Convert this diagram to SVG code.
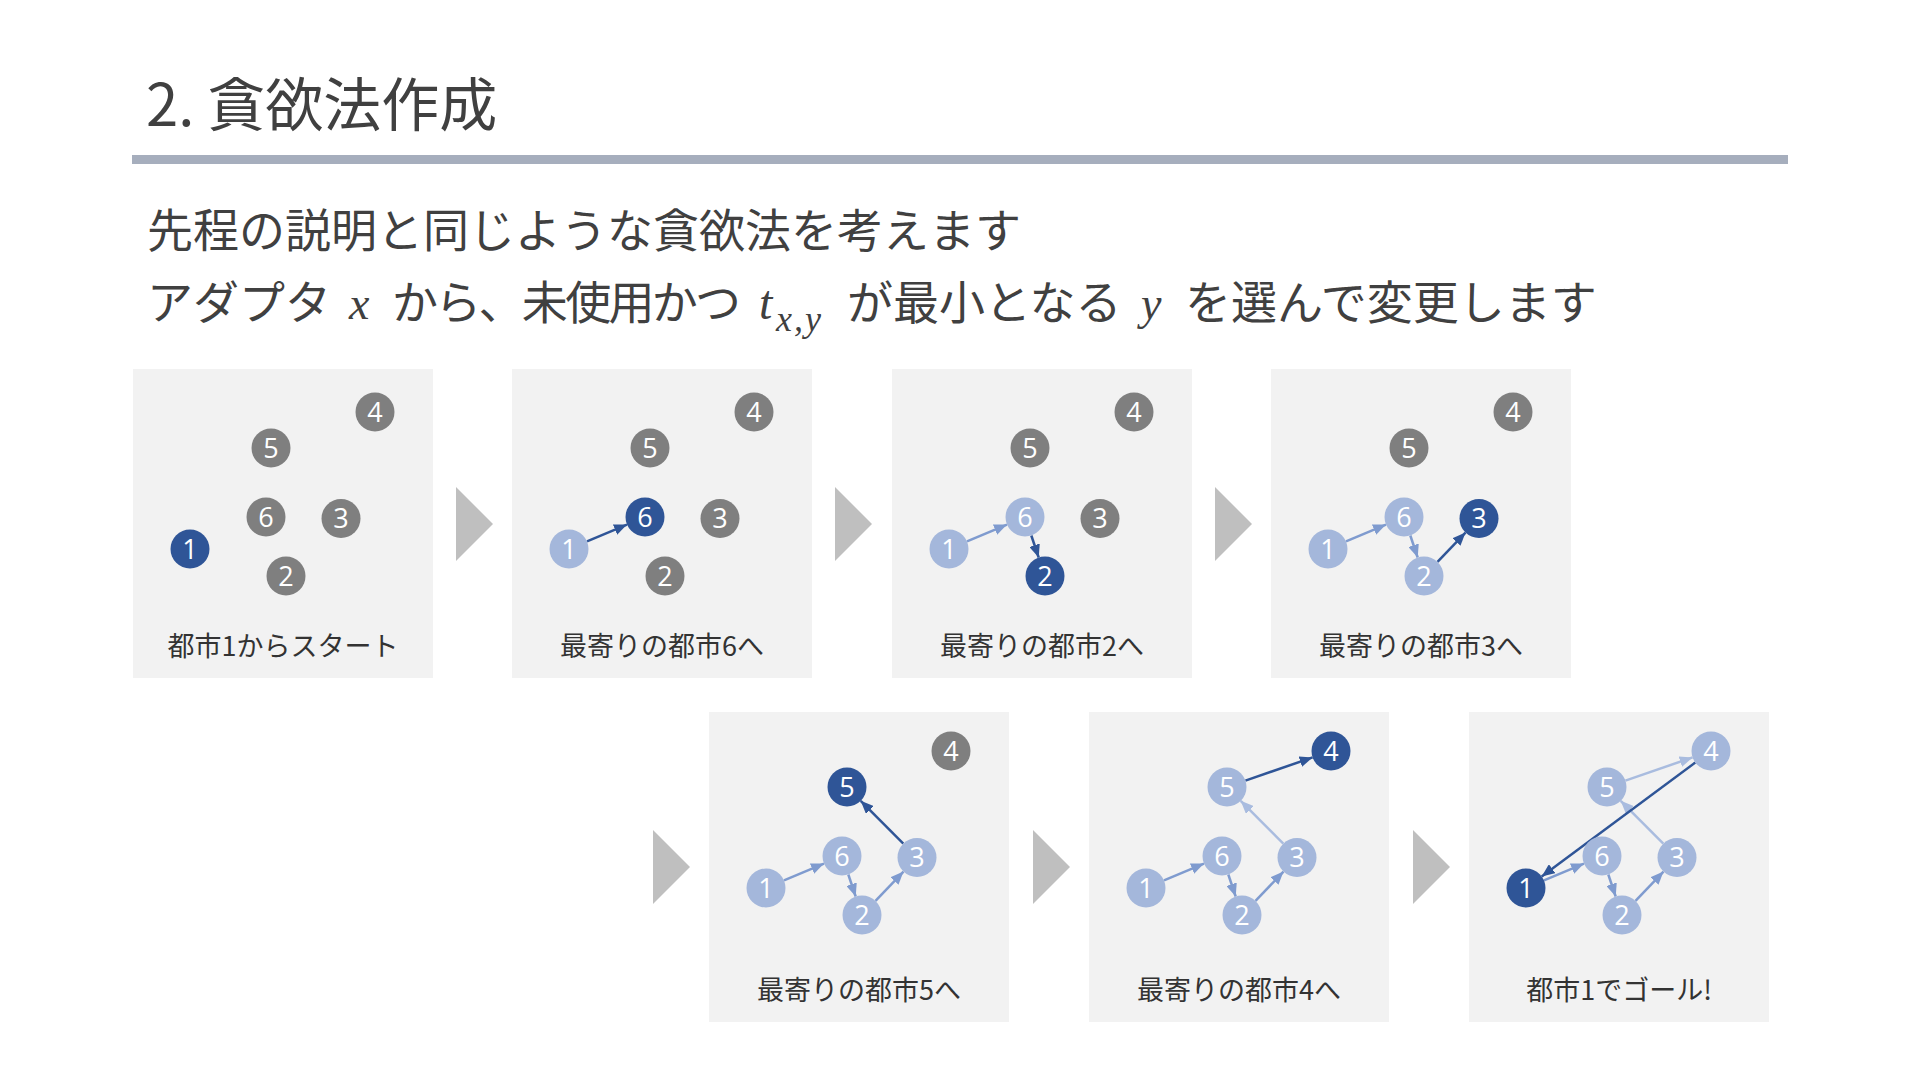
<svg xmlns="http://www.w3.org/2000/svg" width="1920" height="1080" viewBox="0 0 1920 1080">
<style>
.jp{font-family:"Noto Sans CJK JP","Noto Sans",sans-serif;fill:#404040}
.title{font-size:58px}
.body{font-size:46px}
.math{font-family:"Liberation Serif","DejaVu Serif",serif;font-style:italic;fill:#404040}
.panel{fill:#f2f2f2}
.lbl{font-family:"Noto Sans CJK JP","Noto Sans",sans-serif;font-size:27px;fill:#333;text-anchor:middle}
.chev{fill:#bfbfbf}
.g{fill:#7f7f7f}
.d{fill:#2f5597}
.l{fill:#a4b7db}
.e{stroke-width:2.5;fill:none}
.ed{stroke:#2f5597;marker-end:url(#ad)}
.em{stroke:#7f9bcf;marker-end:url(#am)}
.el{stroke:#a9bcdf;marker-end:url(#al)}
</style>
<defs>
<marker id="ad" markerUnits="userSpaceOnUse" markerWidth="13" markerHeight="11" refX="13" refY="5.5" orient="auto"><path d="M0,0 L13,5.5 L0,11 z" fill="#2f5597"/></marker>
<marker id="am" markerUnits="userSpaceOnUse" markerWidth="13" markerHeight="11" refX="13" refY="5.5" orient="auto"><path d="M0,0 L13,5.5 L0,11 z" fill="#7f9bcf"/></marker>
<marker id="al" markerUnits="userSpaceOnUse" markerWidth="13" markerHeight="11" refX="13" refY="5.5" orient="auto"><path d="M0,0 L13,5.5 L0,11 z" fill="#a9bcdf"/></marker>
<g id="n1"><circle cx="57" cy="180" r="19.5"/><text x="57" y="189.5" fill="#ffffff" font-family="Open Sans, Noto Sans, sans-serif" font-size="27" text-anchor="middle">1</text></g>
<g id="n2"><circle cx="153" cy="207" r="19.5"/><text x="153" y="216.5" fill="#ffffff" font-family="Open Sans, Noto Sans, sans-serif" font-size="27" text-anchor="middle">2</text></g>
<g id="n3"><circle cx="208" cy="149.5" r="19.5"/><text x="208" y="159" fill="#ffffff" font-family="Open Sans, Noto Sans, sans-serif" font-size="27" text-anchor="middle">3</text></g>
<g id="n4"><circle cx="242" cy="43" r="19.5"/><text x="242" y="52.5" fill="#ffffff" font-family="Open Sans, Noto Sans, sans-serif" font-size="27" text-anchor="middle">4</text></g>
<g id="n5"><circle cx="138" cy="79" r="19.5"/><text x="138" y="88.5" fill="#ffffff" font-family="Open Sans, Noto Sans, sans-serif" font-size="27" text-anchor="middle">5</text></g>
<g id="n6"><circle cx="133" cy="148" r="19.5"/><text x="133" y="157.5" fill="#ffffff" font-family="Open Sans, Noto Sans, sans-serif" font-size="27" text-anchor="middle">6</text></g>
</defs>

<g id="header">
<text class="jp title" x="146" y="126">2. 貪欲法作成</text>
<rect x="132" y="155" width="1656" height="9" fill="#a6aebd"/>
<text class="jp body" x="147" y="247">先程の説明と同じような貪欲法を考えます</text>
<text class="jp body" x="147" y="319">アダプタ</text>
<text class="math" x="349" y="319" font-size="46">x</text>
<text class="jp body" x="392" y="319" textLength="349" lengthAdjust="spacing">から、未使用かつ</text>
<text class="math" x="759" y="319" font-size="48">t</text>
<text class="math" x="776" y="331" font-size="36" letter-spacing="2">x,y</text>
<text class="jp body" x="847" y="319">が最小となる</text>
<text class="math" x="1141" y="319" font-size="46">y</text>
<text class="jp body" x="1185" y="319">を選んで変更します</text>
</g>

<g id="chevrons">
<polygon class="chev" points="456,487 493,524 456,561"/>
<polygon class="chev" points="835,487 872,524 835,561"/>
<polygon class="chev" points="1215,487 1252,524 1215,561"/>
<polygon class="chev" points="653,830 690,867 653,904"/>
<polygon class="chev" points="1033,830 1070,867 1033,904"/>
<polygon class="chev" points="1413,830 1450,867 1413,904"/>
</g>

<g id="panel1" transform="translate(133,369)">
<rect class="panel" x="0" y="0" width="300" height="309"/>
<g id="p1-nodes">
<use id="p1-n1" class="d" href="#n1"/>
<use id="p1-n2" class="g" href="#n2"/>
<use id="p1-n3" class="g" href="#n3"/>
<use id="p1-n4" class="g" href="#n4"/>
<use id="p1-n5" class="g" href="#n5"/>
<use id="p1-n6" class="g" href="#n6"/>
</g>
<text class="lbl" x="150" y="287">都市1からスタート</text>
</g>

<g id="panel2" transform="translate(512,369)">
<rect class="panel" x="0" y="0" width="300" height="309"/>
<g id="p2-connectors">
<line class="e ed" x1="75" y1="172.4" x2="115" y2="155.6"/>
</g>
<g id="p2-nodes">
<use id="p2-n1" class="l" href="#n1"/>
<use id="p2-n2" class="g" href="#n2"/>
<use id="p2-n3" class="g" href="#n3"/>
<use id="p2-n4" class="g" href="#n4"/>
<use id="p2-n5" class="g" href="#n5"/>
<use id="p2-n6" class="d" href="#n6"/>
</g>
<text class="lbl" x="150" y="287">最寄りの都市6へ</text>
</g>

<g id="panel3" transform="translate(892,369)">
<rect class="panel" x="0" y="0" width="300" height="309"/>
<g id="p3-connectors">
<line class="e em" x1="75" y1="172.4" x2="115" y2="155.6"/>
<line class="e ed" x1="139.3" y1="166.5" x2="146.7" y2="188.5"/>
</g>
<g id="p3-nodes">
<use id="p3-n1" class="l" href="#n1"/>
<use id="p3-n2" class="d" href="#n2"/>
<use id="p3-n3" class="g" href="#n3"/>
<use id="p3-n4" class="g" href="#n4"/>
<use id="p3-n5" class="g" href="#n5"/>
<use id="p3-n6" class="l" href="#n6"/>
</g>
<text class="lbl" x="150" y="287">最寄りの都市2へ</text>
</g>

<g id="panel4" transform="translate(1271,369)">
<rect class="panel" x="0" y="0" width="300" height="309"/>
<g id="p4-connectors">
<line class="e em" x1="75" y1="172.4" x2="115" y2="155.6"/>
<line class="e em" x1="139.3" y1="166.5" x2="146.7" y2="188.5"/>
<line class="e ed" x1="166.5" y1="192.9" x2="194.5" y2="163.6"/>
</g>
<g id="p4-nodes">
<use id="p4-n1" class="l" href="#n1"/>
<use id="p4-n2" class="l" href="#n2"/>
<use id="p4-n3" class="d" href="#n3"/>
<use id="p4-n4" class="g" href="#n4"/>
<use id="p4-n5" class="g" href="#n5"/>
<use id="p4-n6" class="l" href="#n6"/>
</g>
<text class="lbl" x="150" y="287">最寄りの都市3へ</text>
</g>

<g id="panel5" transform="translate(709,708)">
<rect class="panel" x="0" y="4" width="300" height="310"/>
<g id="p5-connectors">
<line class="e em" x1="75" y1="172.4" x2="115" y2="155.6"/>
<line class="e em" x1="139.3" y1="166.5" x2="146.7" y2="188.5"/>
<line class="e em" x1="166.5" y1="192.9" x2="194.5" y2="163.6"/>
<line class="e ed" x1="194.3" y1="135.7" x2="151.7" y2="92.8"/>
</g>
<g id="p5-nodes">
<use id="p5-n1" class="l" href="#n1"/>
<use id="p5-n2" class="l" href="#n2"/>
<use id="p5-n3" class="l" href="#n3"/>
<use id="p5-n4" class="g" href="#n4"/>
<use id="p5-n5" class="d" href="#n5"/>
<use id="p5-n6" class="l" href="#n6"/>
</g>
<text class="lbl" x="150" y="292">最寄りの都市5へ</text>
</g>

<g id="panel6" transform="translate(1089,708)">
<rect class="panel" x="0" y="4" width="300" height="310"/>
<g id="p6-connectors">
<line class="e em" x1="75" y1="172.4" x2="115" y2="155.6"/>
<line class="e em" x1="139.3" y1="166.5" x2="146.7" y2="188.5"/>
<line class="e em" x1="166.5" y1="192.9" x2="194.5" y2="163.6"/>
<line class="e el" x1="194.3" y1="135.7" x2="151.7" y2="92.8"/>
<line class="e ed" x1="156.4" y1="72.6" x2="223.6" y2="49.4"/>
</g>
<g id="p6-nodes">
<use id="p6-n1" class="l" href="#n1"/>
<use id="p6-n2" class="l" href="#n2"/>
<use id="p6-n3" class="l" href="#n3"/>
<use id="p6-n4" class="d" href="#n4"/>
<use id="p6-n5" class="l" href="#n5"/>
<use id="p6-n6" class="l" href="#n6"/>
</g>
<text class="lbl" x="150" y="292">最寄りの都市4へ</text>
</g>

<g id="panel7" transform="translate(1469,708)">
<rect class="panel" x="0" y="4" width="300" height="310"/>
<g id="p7-connectors">
<line class="e em" x1="75" y1="172.4" x2="115" y2="155.6"/>
<line class="e em" x1="139.3" y1="166.5" x2="146.7" y2="188.5"/>
<line class="e em" x1="166.5" y1="192.9" x2="194.5" y2="163.6"/>
<line class="e el" x1="194.3" y1="135.7" x2="151.7" y2="92.8"/>
<line class="e el" x1="156.4" y1="72.6" x2="223.6" y2="49.4"/>
<line class="e ed" x1="226.3" y1="54.6" x2="72.7" y2="168.4"/>
</g>
<g id="p7-nodes">
<use id="p7-n1" class="d" href="#n1"/>
<use id="p7-n2" class="l" href="#n2"/>
<use id="p7-n3" class="l" href="#n3"/>
<use id="p7-n4" class="l" href="#n4"/>
<use id="p7-n5" class="l" href="#n5"/>
<use id="p7-n6" class="l" href="#n6"/>
</g>
<text class="lbl" x="150" y="292">都市1でゴール!</text>
</g>
</svg>
